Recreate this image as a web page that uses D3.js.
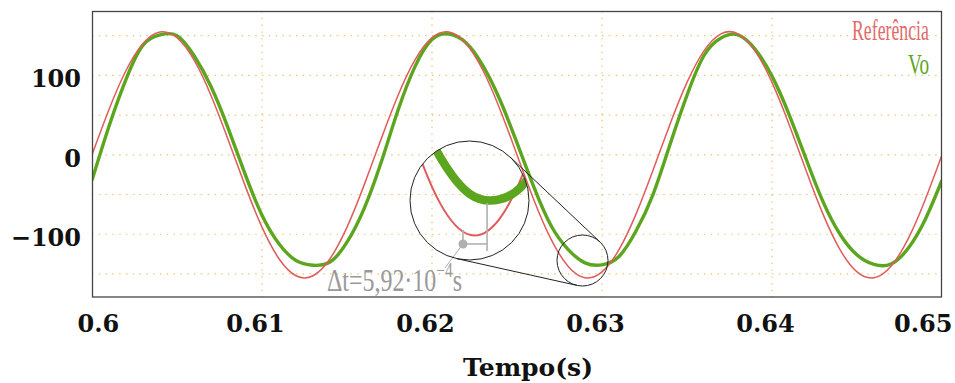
<!DOCTYPE html>
<html>
<head>
<meta charset="utf-8">
<script src="https://cdn.jsdelivr.net/npm/d3@7"></script>
<style>
  body { margin: 0; background: #fff; }
  svg { display: block; }
</style>
</head>
<body>
<div id="chart"></div>
<script>
// sample instants (s)
const tempo = [0.600, 0.601, 0.602, 0.603, 0.604, 0.605, 0.606, 0.607, 0.608, 0.609,
  0.610, 0.611, 0.612, 0.613, 0.614, 0.615, 0.616, 0.617, 0.618, 0.619,
  0.620, 0.621, 0.622, 0.623, 0.624, 0.625, 0.626, 0.627, 0.628, 0.629,
  0.630, 0.631, 0.632, 0.633, 0.634, 0.635, 0.636, 0.637, 0.638, 0.639,
  0.640, 0.641, 0.642, 0.643, 0.644, 0.645, 0.646, 0.647, 0.648, 0.649, 0.650]

// reference voltage
const referencia = [0, 57.1, 106.1, 140.2, 154.7, 147.4, 119.4, 74.7, 19.4, -38.5,
  -91.1, -130.9, -152.3, -152.3, -130.9, -91.1, -38.5, 19.4, 74.7, 119.4,
  147.4, 154.7, 140.2, 106.1, 57.1, 0, -57.1, -106.1, -140.2, -154.7,
  -147.4, -119.4, -74.7, -19.4, 38.5, 91.1, 130.9, 152.3, 152.3, 130.9,
  91.1, 38.5, -19.4, -74.7, -119.4, -147.4, -154.7, -140.2, -106.1, -57.1, 0]

// output voltage Vo
const vo = [-32, 36, 95, 138, 151, 150, 125, 86, 34, -24,
  -76, -112, -133, -139, -135, -110, -68, -10, 56, 111,
  145, 152, 141, 112, 69, 15, -41, -89, -119, -136,
  -138.5, -128, -96, -50, 13, 75, 125, 147, 151, 133,
  99, 51, -5, -59, -100, -126, -138, -137.5, -118, -82, -32]

const xTicks = [0.6, 0.61, 0.62, 0.63, 0.64, 0.65]
const yTicks = [-100, 0, 100]
const yGrid = [-150, -100, -50, 0, 50, 100, 150]

// delta t marker, in data units of the zoomed view
const marcaT = [0.62877, 0.62958]
const marcaV = [-152.5, -140.1, -158.9, -162.1]

const width = 955, height = 383
const margin = {top: 11, right: 13, bottom: 86, left: 92}
const plotW = width - margin.left - margin.right,
  plotH = height - margin.top - margin.bottom

const red = '#e05c5c', green = '#5ca61f'

const svg = d3.select('#chart').append('svg')
  .attr('width', width)
  .attr('height', height)

const x = d3.scaleLinear().domain([0.6, 0.65]).range([margin.left, margin.left + plotW])
const y = d3.scaleLinear().domain([-179, 181]).range([margin.top + plotH, margin.top])

const defs = svg.append('defs')
defs.append('clipPath').attr('id', 'plotClip')
  .append('rect')
    .attr('x', margin.left).attr('y', margin.top)
    .attr('width', plotW).attr('height', plotH)

// grid
const grid = svg.append('g')
  .attr('stroke', '#f3c06a')
  .attr('stroke-width', 1.2)
  .attr('stroke-dasharray', '1.4,5.4')

grid.selectAll('line.h')
  .data(yGrid).enter()
  .append('line')
    .attr('class', 'h')
    .attr('x1', margin.left).attr('x2', margin.left + plotW)
    .attr('y1', d => y(d)).attr('y2', d => y(d))

grid.selectAll('line.v')
  .data(xTicks.slice(1, -1)).enter()
  .append('line')
    .attr('class', 'v')
    .attr('x1', d => x(d)).attr('x2', d => x(d))
    .attr('y1', margin.top).attr('y2', margin.top + plotH)

// curves
const series = [
  {name: 'Referência', values: referencia, color: red, w: 1.5, wz: 2},
  {name: 'Vo', values: vo, color: green, w: 3.4, wz: 8.5}
]

const line = (sx, sy) => d3.line()
  .x(d => sx(d[0]))
  .y(d => sy(d[1]))
  .curve(d3.curveNatural)

const plot = svg.append('g').attr('clip-path', 'url(#plotClip)')
plot.selectAll('path')
  .data(series.slice().reverse()).enter()
  .append('path')
    .attr('fill', 'none')
    .attr('stroke', d => d.color)
    .attr('stroke-width', d => d.w)
    .attr('stroke-linejoin', 'round')
    .attr('d', d => line(x, y)(tempo.map((t, i) => [t, d.values[i]])))

// frame
svg.append('rect')
  .attr('x', margin.left + 0.5).attr('y', margin.top + 0.5)
  .attr('width', plotW - 1).attr('height', plotH - 0.5)
  .attr('fill', 'none')
  .attr('stroke', '#444')
  .attr('stroke-width', 1.3)

// axes
const tickFont = 'DejaVu Serif'

const yAxis = svg.append('g')
  .attr('transform', 'translate(' + margin.left + ',0)')
  .call(d3.axisLeft(y).tickValues(yTicks).tickSize(0).tickPadding(11))
yAxis.select('.domain').remove()
yAxis.selectAll('text')
  .attr('dy', '0.48em')
  .style('font-family', tickFont)
  .style('font-weight', 'bold')
  .style('font-size', '24px')
  .attr('fill', '#111')

const xAxis = svg.append('g')
  .attr('transform', 'translate(0,' + (margin.top + plotH) + ')')
  .call(d3.axisBottom(x).tickValues(xTicks).tickSize(0).tickFormat(d3.format('~g')))
xAxis.select('.domain').remove()
xAxis.selectAll('text')
  .attr('y', 34.5)
  .attr('dy', 0)
  .style('font-family', tickFont)
  .style('font-weight', 'bold')
  .style('font-size', '24px')
  .attr('fill', '#111')
  .attr('x', -7)
  .each(function() {
    // keep edge labels inside the figure like the original
    const b = this.getBBox()
    const cx = b.x + b.width / 2
    const tx = x(d3.select(this).datum())
    let left = tx + cx - b.width / 2
    let shift = 0
    if (left < 77) shift = 77 - left
    if (left + b.width > 952) shift = 952 - (left + b.width)
    d3.select(this).attr('x', -7 + shift)
  })

svg.append('text')
  .attr('x', 528).attr('y', 376)
  .attr('text-anchor', 'middle')
  .style('font-family', tickFont)
  .style('font-weight', 'bold')
  .style('font-size', '25px')
  .attr('fill', '#111')
  .text('Tempo(s)')

// horizontally squeezed text, like the condensed font of the original
function squeezed(parent, px, py, targetW, anchorEnd, color, size, build) {
  const g = parent.append('g')
  const t = g.append('text')
    .style('font-family', 'Liberation Serif')
    .style('font-size', size + 'px')
    .attr('fill', color)
  build(t)
  const w = t.node().getBBox().width
  const s = targetW / w
  const x0 = anchorEnd ? px - targetW : px
  g.attr('transform', 'translate(' + x0 + ',' + py + ') scale(' + s + ',1)')
  return g
}

// legend
squeezed(svg, 929, 40, 77, true, '#e06a6a', 30, t => t.text(series[0].name))
squeezed(svg, 929, 74, 21, true, green, 30, t => t.text(series[1].name))

// magnifier
const small = {cx: 582.5, cy: 260.5, r: 25.5}
const big = {cx: 469.5, cy: 200.5, r: 59.5}

const tC = 0.62899, vC = -139
const mx = 1.75, my = 2.75
const xIn = d3.scaleLinear()
  .domain([tC - big.r / (17000 * mx), tC + big.r / (17000 * mx)])
  .range([big.cx - big.r, big.cx + big.r])
const yIn = d3.scaleLinear()
  .domain([vC - big.r / (0.7944 * my), vC + big.r / (0.7944 * my)])
  .range([big.cy + big.r, big.cy - big.r])

defs.append('clipPath').attr('id', 'spyClip')
  .append('circle')
    .attr('cx', big.cx).attr('cy', big.cy).attr('r', big.r)

const spy = svg.append('g')

// tangent lines between the two circles
const d = Math.hypot(small.cx - big.cx, small.cy - big.cy)
const th = Math.atan2(small.cy - big.cy, small.cx - big.cx)
const al = Math.acos((big.r - small.r) / d)
;[th + al, th - al].forEach(a => {
  spy.append('line')
    .attr('x1', big.cx + big.r * Math.cos(a)).attr('y1', big.cy + big.r * Math.sin(a))
    .attr('x2', small.cx + small.r * Math.cos(a)).attr('y2', small.cy + small.r * Math.sin(a))
    .attr('stroke', '#222').attr('stroke-width', 1)
})

const zoomed = spy.append('g').attr('clip-path', 'url(#spyClip)')
zoomed.selectAll('path')
  .data(series).enter()
  .append('path')
    .attr('fill', 'none')
    .attr('stroke', d => d.color)
    .attr('stroke-width', d => d.wz)
    .attr('d', d => line(xIn, yIn)(tempo.map((t, i) => [t, d.values[i]])))

// delta t marker
const mk = spy.append('g').attr('stroke', '#b0b0b0').attr('stroke-width', 1.6)
mk.append('line')
  .attr('x1', xIn(marcaT[0])).attr('x2', xIn(marcaT[0]))
  .attr('y1', yIn(marcaV[0])).attr('y2', yIn(marcaV[2]))
mk.append('line')
  .attr('x1', xIn(marcaT[1])).attr('x2', xIn(marcaT[1]))
  .attr('y1', yIn(marcaV[1])).attr('y2', yIn(marcaV[3]))
mk.append('line')
  .attr('x1', xIn(marcaT[0])).attr('x2', xIn(marcaT[1]))
  .attr('y1', yIn(marcaV[2])).attr('y2', yIn(marcaV[2]))
mk.append('line')
  .attr('stroke-width', 1)
  .attr('x1', xIn(marcaT[0])).attr('y1', yIn(marcaV[2]))
  .attr('x2', xIn(marcaT[0]) - 18).attr('y2', yIn(marcaV[2]) + 24)
spy.append('circle')
  .attr('cx', xIn(marcaT[0])).attr('cy', yIn(marcaV[2]))
  .attr('r', 4.5)
  .attr('fill', '#b0b0b0')

;[big, small].forEach(c => {
  spy.append('circle')
    .attr('cx', c.cx).attr('cy', c.cy).attr('r', c.r)
    .attr('fill', 'none')
    .attr('stroke', '#222').attr('stroke-width', 1)
})

// delta t label
squeezed(svg, 327, 291, 135, false, '#999', 31, t => {
  t.append('tspan').text('\u0394t=5,92\u00b710')
  t.append('tspan').attr('dy', -14).style('font-size', '20px').text('\u22124')
  t.append('tspan').attr('dy', 14).text('s')
})
</script>
</body>
</html>
